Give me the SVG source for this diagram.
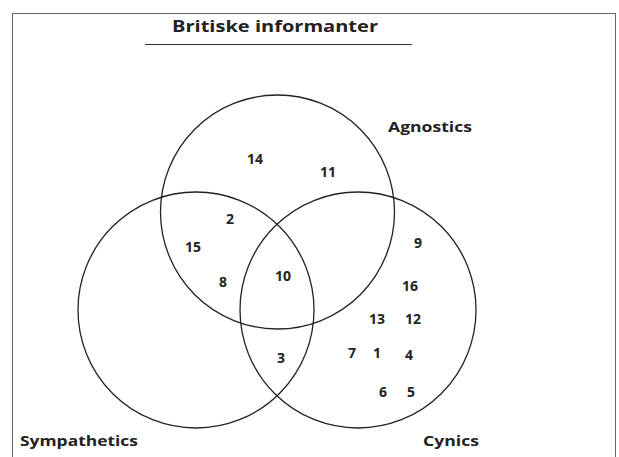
<svg xmlns="http://www.w3.org/2000/svg" width="619" height="457" viewBox="0 0 619 457">
  <style>
    .frame { fill: none; stroke: #666; stroke-width: 1; }
    .circle { fill: none; stroke: #222; stroke-width: 1.3; }
    .title { font-family: "Open Sans", "Liberation Sans", sans-serif; font-weight: bold; font-size: 16px; fill: #222; }
    .label { font-family: "Open Sans", "Liberation Sans", sans-serif; font-weight: bold; font-size: 14px; fill: #222; }
    .num { font-family: "Open Sans", "Liberation Sans", sans-serif; font-weight: bold; font-size: 14px; fill: #222; text-anchor: middle; }
  </style>
  <rect width="619" height="457" fill="#fff"/>
  <rect class="frame" x="12.5" y="13.5" width="603" height="460"/>

  <g id="title">
    <text class="title" x="172" y="32" textLength="206" lengthAdjust="spacingAndGlyphs">Britiske informanter</text>
    <line x1="145" y1="44.5" x2="412" y2="44.5" stroke="#333" stroke-width="1"/>
  </g>

  <g id="agnostics">
    <circle class="circle" cx="277.5" cy="212" r="117"/>
    <text class="label" x="388" y="132" textLength="84" lengthAdjust="spacingAndGlyphs">Agnostics</text>
  </g>
  <g id="sympathetics">
    <circle class="circle" cx="196" cy="310" r="118"/>
    <text class="label" x="20" y="446" textLength="118" lengthAdjust="spacingAndGlyphs">Sympathetics</text>
  </g>
  <g id="cynics">
    <circle class="circle" cx="358" cy="310" r="118"/>
    <text class="label" x="423" y="446" textLength="56" lengthAdjust="spacingAndGlyphs">Cynics</text>
  </g>

  <g id="members">
    <text class="num" x="255" y="164">14</text>
    <text class="num" x="328" y="177">11</text>
    <text class="num" x="230" y="224">2</text>
    <text class="num" x="193" y="252">15</text>
    <text class="num" x="223" y="287">8</text>
    <text class="num" x="283" y="281">10</text>
    <text class="num" x="281" y="363">3</text>
    <text class="num" x="418" y="248">9</text>
    <text class="num" x="410" y="291">16</text>
    <text class="num" x="377" y="324">13</text>
    <text class="num" x="413" y="324">12</text>
    <text class="num" x="352" y="358">7</text>
    <text class="num" x="377" y="358">1</text>
    <text class="num" x="409" y="360">4</text>
    <text class="num" x="383" y="397">6</text>
    <text class="num" x="411" y="397">5</text>
  </g>
</svg>
